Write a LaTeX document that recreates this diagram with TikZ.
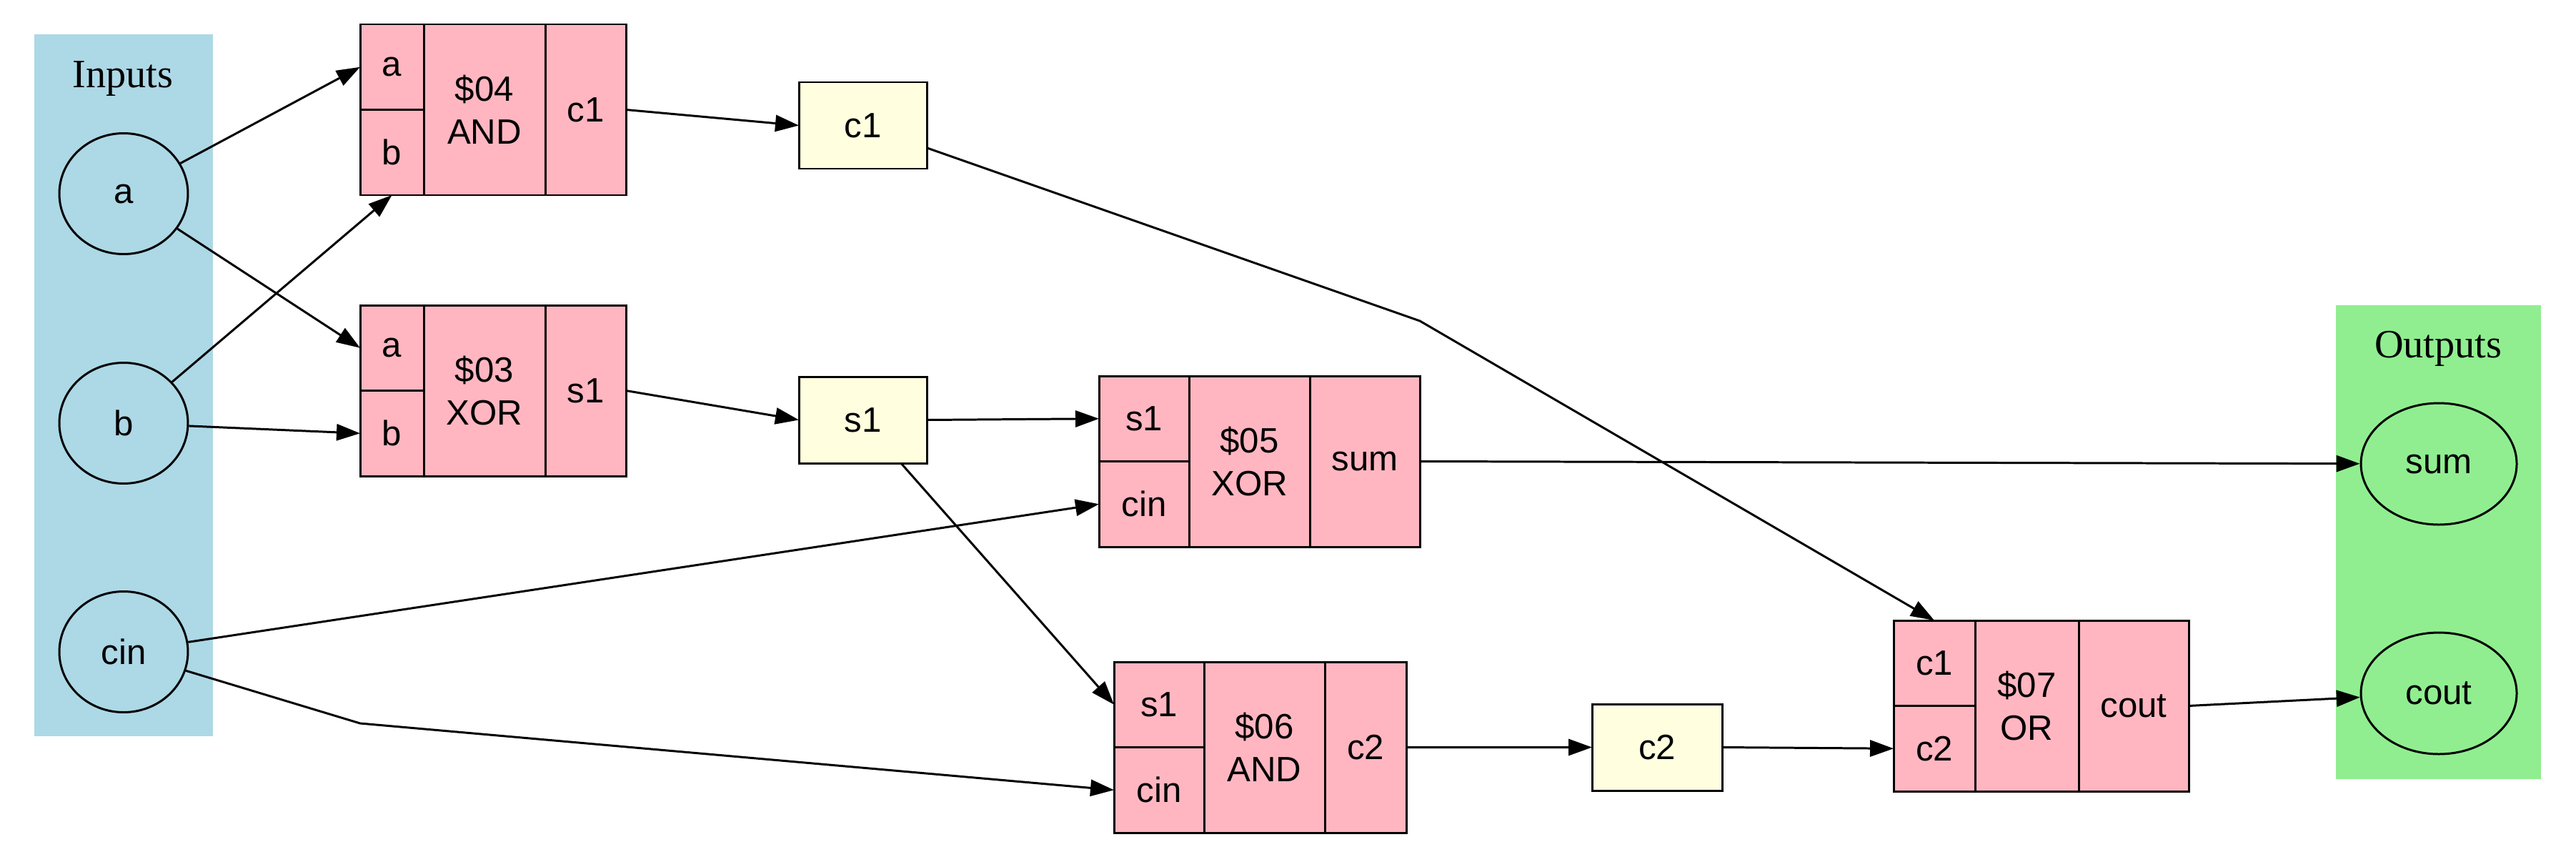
\documentclass[tikz,border=0pt]{standalone}
\usepackage{fontspec}
\setmainfont{Liberation Serif}
\setsansfont{Liberation Sans}
\usetikzlibrary{positioning,arrows.meta,shapes.geometric}
\definecolor{adderBlue}{HTML}{ADD8E6}
\definecolor{adderPink}{HTML}{FFB6C1}
\definecolor{adderYellow}{HTML}{FFFFE0}
\definecolor{adderGreen}{HTML}{90EE90}

\begin{document}
\begin{tikzpicture}[x=1mm,y=-1mm,
  lbl/.style={font=\fontsize{16}{19}\selectfont,anchor=base},
  io/.style={ellipse,draw,line width=0.85pt,inner sep=0pt,font=\sffamily\fontsize{14}{17}\selectfont},
  cell/.style={draw,line width=0.85pt,fill=adderPink,inner sep=0pt,outer sep=0pt,anchor=north west,
               font=\sffamily\fontsize{14}{17}\selectfont,align=center},
  pin/.style={cell,minimum height=11.95mm},
  op/.style={cell,minimum height=23.9mm},
  net/.style={draw,line width=0.85pt,fill=adderYellow,inner sep=0pt,outer sep=0pt,
              minimum width=17.9mm,minimum height=12.1mm,font=\sffamily\fontsize{14}{17}\selectfont},
  w/.style={-{Triangle[length=3.3mm,width=2.3mm]},line width=0.85pt}]
  \useasboundingbox (0,0) rectangle (360.5,118.4);
  % clusters
  \fill[adderBlue] (4.8,4.8) rectangle (29.8,103.0);
  \fill[adderGreen] (326.9,42.7) rectangle (355.6,109.0);
  \node[lbl] (inlbl)  at (17.2,12.2) {Inputs};
  \node[lbl] (outlbl) at (341.2,50.0) {Outputs};
  \node[io,fill=adderBlue,minimum width=18mm,minimum height=16.9mm] (a)   at (17.3,27.1) {a};
  \node[io,fill=adderBlue,minimum width=18mm,minimum height=16.9mm] (b)   at (17.3,59.2) {b};
  \node[io,fill=adderBlue,minimum width=18mm,minimum height=16.9mm] (cin) at (17.3,91.2) {cin};
  \node[io,fill=adderGreen,minimum width=21.8mm,minimum height=17mm] (sum)  at (341.3,64.9) {sum};
  \node[io,fill=adderGreen,minimum width=21.8mm,minimum height=17mm] (cout) at (341.3,97.0) {cout};
  % gates
  \node[pin,minimum width=8.9mm] (g04a) at (50.4,3.4) {a};
  \node[pin,minimum width=8.9mm] (g04b) at (g04a.south west) {b};
  \node[op,minimum width=17mm] (g04op) at (g04a.north east) {\$04\\AND};
  \node[op,minimum width=11.3mm] (g04y) at (g04op.north east) {c1};
  \node[pin,minimum width=8.9mm] (g03a) at (50.4,42.7) {a};
  \node[pin,minimum width=8.9mm] (g03b) at (g03a.south west) {b};
  \node[op,minimum width=17mm] (g03op) at (g03a.north east) {\$03\\XOR};
  \node[op,minimum width=11.3mm] (g03y) at (g03op.north east) {s1};
  \node[pin,minimum width=12.6mm] (g05s1) at (153.8,52.6) {s1};
  \node[pin,minimum width=12.6mm] (g05cin) at (g05s1.south west) {cin};
  \node[op,minimum width=16.9mm] (g05op) at (g05s1.north east) {\$05\\XOR};
  \node[op,minimum width=15.4mm] (g05y) at (g05op.north east) {sum};
  \node[pin,minimum width=12.6mm] (g06s1) at (155.9,92.6) {s1};
  \node[pin,minimum width=12.6mm] (g06cin) at (g06s1.south west) {cin};
  \node[op,minimum width=16.9mm] (g06op) at (g06s1.north east) {\$06\\AND};
  \node[op,minimum width=11.4mm] (g06y) at (g06op.north east) {c2};
  \node[pin,minimum width=11.4mm] (g07c1) at (265.0,86.8) {c1};
  \node[pin,minimum width=11.4mm] (g07c2) at (g07c1.south west) {c2};
  \node[op,minimum width=14.5mm] (g07op) at (g07c1.north east) {\$07\\OR};
  \node[op,minimum width=15.4mm] (g07y) at (g07op.north east) {cout};
  % nets
  \node[net] (c1) at (120.75,17.55) {c1};
  \node[net] (s1) at (120.75,58.75) {s1};
  \node[net,minimum width=18.2mm] (c2) at (231.9,104.55) {c2};
  \coordinate (c1bend)  at (198.7,44.9);
  \coordinate (cinbend) at (50.4,101.2);
  % wires
  \draw[w] (a) -- (g04a.west); \draw[w] (a) -- (g03a.west);
  \draw[w] (b) -- (g04b.south); \draw[w] (b) -- (g03b.west);
  \draw[w] (cin) -- (g05cin.west); \draw[w] (cin) -- (cinbend) -- (g06cin.west);
  \draw[w] (g04y.east) -- (c1.west); \draw[w] (g03y.east) -- (s1.west);
  \draw[w] (c1) -- (c1bend) -- (g07c1.north);
  \draw[w] (s1.east) -- (g05s1.west); \draw[w] (s1) -- (g06s1.west);
  \draw[w] (g05y.east) -- (sum); \draw[w] (g06y.east) -- (c2.west);
  \draw[w] (c2.east) -- (g07c2.west); \draw[w] (g07y.east) -- (cout);
\end{tikzpicture}
\end{document}
